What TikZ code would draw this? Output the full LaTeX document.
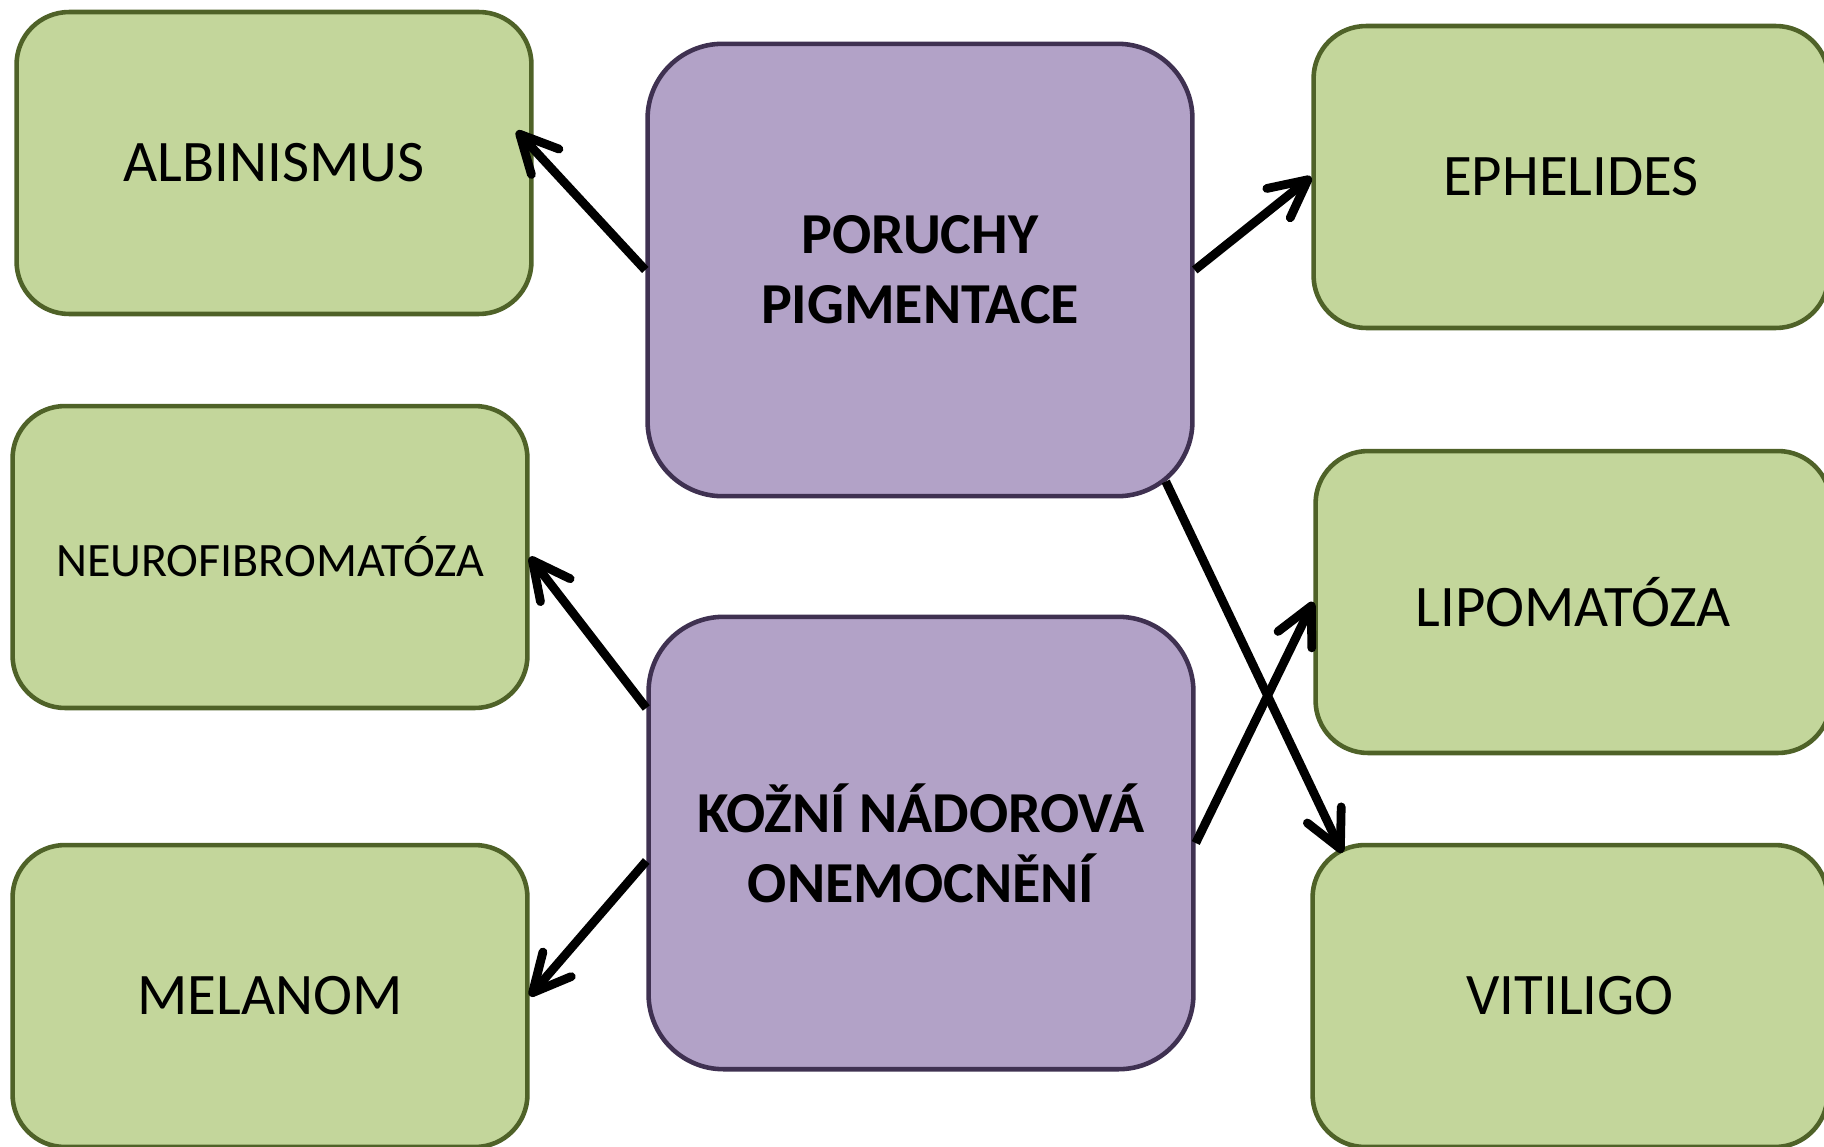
\documentclass[tikz,border=0pt]{standalone}
\usepackage{fontspec}
\setmainfont{Carlito}
\usetikzlibrary{arrows.meta}
\definecolor{olivelight}{HTML}{C3D69B}
\definecolor{olivedark}{HTML}{4F6228}
\definecolor{purplelight}{HTML}{B2A2C7}
\definecolor{purpledark}{HTML}{3F3151}

\begin{document}
\begin{tikzpicture}[x=0.02cm, y=-0.02cm,
  disease/.style={draw=olivedark, fill=olivelight, line width=2.6pt, rounded corners=1.05cm, minimum width=10.3cm, minimum height=6.04cm, inner sep=0pt, align=center, font=\fontsize{33.5}{40}\selectfont},
  group/.style={draw=purpledark, fill=purplelight, line width=2.6pt, rounded corners=1.5cm, minimum width=10.9cm, minimum height=9.05cm, inner sep=0pt, align=center, font=\bfseries\fontsize{33}{40}\selectfont},
  link/.style={line width=5pt, -{Straight Barb[round, length=0.75cm, width=0.75cm]}}]
        \path[use as bounding box, clip] (0,0) rectangle (1824,1146);
        \node[group] (pig) at (920,270) {PORUCHY\\PIGMENTACE};
        \node[group] (tum) at (921,843) {KOŽNÍ NÁDOROVÁ\\ONEMOCNĚNÍ};
        \node[disease] (alb) at (274,163) {ALBINISMUS};
        \node[disease] (eph) at (1571,177) {EPHELIDES};
        \node[disease, font=\fontsize{27.3}{32}\selectfont] (neu) at (270,557) {NEUROFIBROMATÓZA};
        \node[disease] (lip) at (1573,602) {LIPOMATÓZA};
        \node[disease] (mel) at (270,996) {MELANOM};
        \node[disease] (vit) at (1570,996) {VITILIGO};
        \draw[link] (pig.west) to ([xshift=-0.34cm, yshift=0.64cm]alb.east);
        \draw[link] (pig.east) to (eph.west);
        \draw[link] ([xshift=-0.58cm, yshift=0.34cm]pig.south east) to ([xshift=0.64cm, yshift=-0.2cm]vit.north west);
        \draw[link] ([yshift=2.7cm]tum.west) to (neu.east);
        \draw[link] ([yshift=-0.36cm]tum.west) to (mel.east);
        \draw[link] (tum.east) to (lip.west);
  \end{tikzpicture}
\end{document}
